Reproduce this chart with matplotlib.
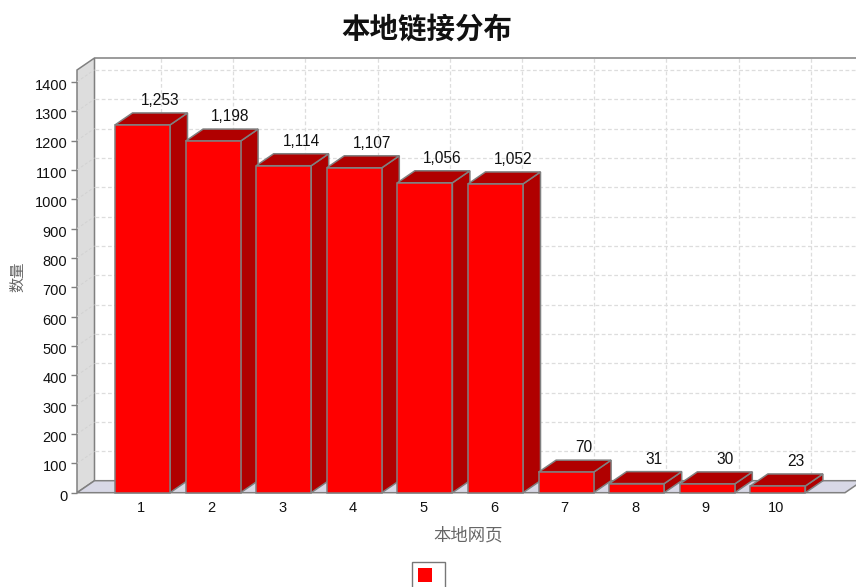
#!/usr/bin/env python3
import matplotlib
matplotlib.use('Agg')
import matplotlib.pyplot as plt
from matplotlib.patches import Polygon, Rectangle
from matplotlib.transforms import ScaledTranslation

plt.rcParams['font.family'] = ['Liberation Sans', 'Noto Sans CJK SC', 'DejaVu Sans']

categories = ['1', '2', '3', '4', '5', '6', '7', '8', '9', '10']
values = [1253, 1198, 1114, 1107, 1056, 1052, 70, 31, 30, 23]
y_ticks = list(range(0, 1500, 100))

W, H = 856, 587
fig = plt.figure(figsize=(W / 100, H / 100), dpi=100, facecolor='white')

# 前平面的像素位置
left, right, top, bottom = 77, 845, 70, 492.7
px_per_unit = 0.2935
ax = fig.add_axes([left / W, 1 - bottom / H, (right - left) / W, (bottom - top) / H])
step = 70.6
ax.set_xlim(1 - (142.5 - left) / step, 1 + (right - 142.5) / step)
ax.set_ylim(0, (bottom - top) / px_per_unit)
ax.patch.set_alpha(0)
for s in ax.spines.values():
    s.set_visible(False)

# 3D 深度偏移（数据单位）
dx = 17.5 / step
dy = 12 / px_per_unit
x0, x1 = ax.get_xlim()
y1 = ax.get_ylim()[1]
edge = '#808080'
grid = '#dddddd'

# 左墙和地板
ax.add_patch(Polygon([(x0, 0), (x0 + dx, dy), (x0 + dx, y1 + dy), (x0, y1)],
                     facecolor='#dddddd', edgecolor=edge, lw=1.1, clip_on=False, zorder=1))
ax.add_patch(Polygon([(x0, 0), (x1, 0), (x1 + dx, dy), (x0 + dx, dy)],
                     facecolor='#d8d8e6', edgecolor=edge, lw=1.1, clip_on=False, zorder=1))
ax.plot([x0 + dx, x1 + dx], [y1 + dy, y1 + dy], color=edge, lw=1.1, clip_on=False, zorder=1)

# 网格，后墙上的竖线间距比柱子略宽
for v in y_ticks[1:]:
    ax.plot([x0 + dx, x1 + dx], [v + dy, v + dy], color=grid, lw=0.9, ls=(0, (3, 2)),
            clip_on=False, zorder=2)
    ax.plot([x0, x0 + dx], [v, v + dy], color='#d2d2d2', lw=0.7, ls=(0, (3, 2)),
            clip_on=False, zorder=2)
for i in range(len(categories)):
    gx = 1 + 18.5 / step + i * 72.2 / step
    ax.plot([gx, gx], [dy, y1 + dy], color=grid, lw=0.9, ls=(0, (3, 2)),
            clip_on=False, zorder=2)

# 柱子
bw = 55 / step
for i, v in enumerate(values):
    a = i + 1 - bw / 2
    b = i + 1 + bw / 2
    z = 3 + i * 0.1
    ax.add_patch(Polygon([(b, 0), (b + dx, dy), (b + dx, v + dy), (b, v)],
                         facecolor='#b00000', edgecolor=edge, lw=1.1, clip_on=False, zorder=z))
    ax.add_patch(Polygon([(a, v), (b, v), (b + dx, v + dy), (a + dx, v + dy)],
                         facecolor='#b00000', edgecolor=edge, lw=1.1, clip_on=False, zorder=z))
    ax.add_patch(Rectangle((a, 0), bw, v, facecolor='#ff0000', edgecolor=edge, lw=1.1,
                           clip_on=False, zorder=z))
    ax.annotate(f'{v:,}', (i + 1 + dx, v + dy), xytext=(0, 3.5), textcoords='offset points',
                ha='center', va='bottom', fontsize=11.2, color='#111111', zorder=10)

ax.set_xticks(range(1, len(categories) + 1), categories)
ax.set_yticks(y_ticks)
ax.tick_params(axis='x', length=0, pad=6, labelsize=10.5, labelcolor='#111111')
ax.tick_params(axis='y', length=4, width=1, color=edge, pad=3, labelsize=10.5, labelcolor='#111111')
for lab in ax.get_xticklabels():
    lab.set_transform(lab.get_transform() + ScaledTranslation(-1.5 / 100, 0, fig.dpi_scale_trans))
for lab in ax.get_yticklabels():
    lab.set_transform(lab.get_transform() + ScaledTranslation(0, -2.5 / 100, fig.dpi_scale_trans))

# 标题和坐标轴标签
fig.text(427 / W, 1 - 30 / H, '本地链接分布', ha='center', va='center', fontsize=20.5,
         fontweight='bold', color='#111111')
fig.text(468 / W, 1 - 535 / H, '本地网页', ha='center', va='center', fontsize=12.5, color='#666666')
fig.text(18 / W, 1 - 277 / H, '数量', ha='center', va='center', rotation=90, fontsize=11,
         color='#666666')

# 图例（只有色块）
fig.add_artist(Rectangle((411.5 / W, 1 - 588 / H), 33 / W, 26 / H, transform=fig.transFigure,
                         facecolor='white', edgecolor='#777777', lw=1))
fig.add_artist(Rectangle((418 / W, 1 - 582 / H), 13.5 / W, 14 / H, transform=fig.transFigure,
                         facecolor='#ff0000', edgecolor='none'))

fig.savefig('out.png', dpi=100, facecolor='white')
